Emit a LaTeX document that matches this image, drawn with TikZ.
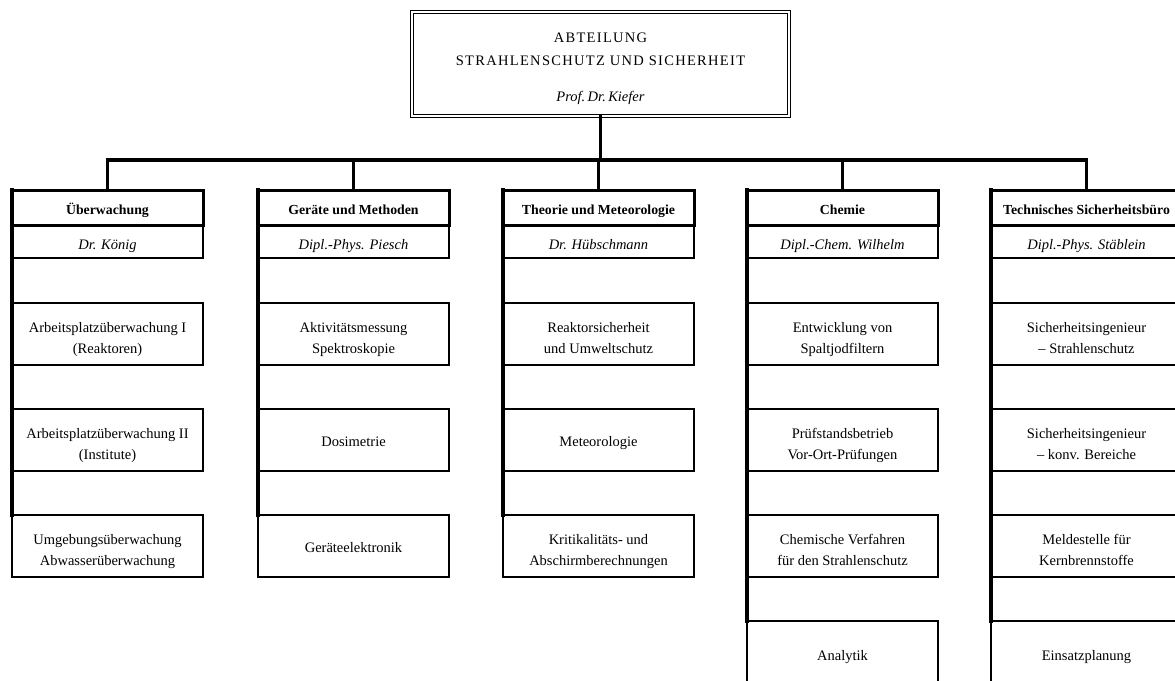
\documentclass[tikz,border=0pt]{standalone}
\usepackage{fontspec}
\setmainfont{Liberation Serif}
\begin{document}
\begin{tikzpicture}[x=1pt,y=-1pt,
  every node/.style={inner sep=0pt, outer sep=0pt},
  topbox/.style={draw, double, line width=1.2pt, double distance=1.8pt,
    minimum width=377pt, minimum height=104pt},
  hdr/.style={draw, line width=3pt, minimum width=191pt, minimum height=35pt,
    text height=13pt, text depth=0pt,
    anchor=north west, font=\fontsize{13.8}{16}\selectfont\bfseries},
  person/.style={draw, line width=1.5pt, minimum width=191pt, minimum height=33pt,
    text height=15pt, text depth=0pt,
    anchor=north west, font=\fontsize{14.5}{17}\selectfont\itshape},
  unit/.style={draw, line width=1.5pt, minimum width=191pt, minimum height=62pt,
    text height=13pt, text depth=0pt,
    anchor=north west, align=center, font=\fontsize{14.5}{20.5}\selectfont},
  unittwo/.style={unit, text height=38pt, text depth=0pt},
  lastunit/.style={unit, minimum height=66pt},
  heavy/.style={line width=3.5pt, line cap=rect, line join=miter}
]
\useasboundingbox (0,0) rectangle (1175,680);
\clip (0,0) rectangle (1175,680);

% top box
\node[topbox] (top) at (600.5,64) {};
\node[font=\fontsize{14.5}{17}\selectfont\addfontfeature{LetterSpace=9}] (t1) at (600.5,38) {ABTEILUNG};
\node[font=\fontsize{14.5}{17}\selectfont\addfontfeature{LetterSpace=9}] (t2) at (600.5,61) {STRAHLENSCHUTZ UND SICHERHEIT};
\node[font=\fontsize{14.5}{17}\selectfont\itshape] (t3) at (600.5,98) {Prof.\,Dr.\,Kiefer};
\coordinate (bus) at (600.5,160);

% column 1
\node[hdr] (h1) at (12,190) {Überwachung};
\node[person] (p1) at (12,225) {Dr. König};
\node[unittwo] (u11) at (12,303) {Arbeitsplatzüberwachung I\\(Reaktoren)};
\node[unittwo] (u12) at (12,409) {Arbeitsplatzüberwachung II\\(Institute)};
\node[unittwo] (u13) at (12,515) {Umgebungsüberwachung\\Abwasserüberwachung};

% column 2
\node[hdr] (h2) at (258,190) {Geräte und Methoden};
\node[person] (p2) at (258,225) {Dipl.-Phys. Piesch};
\node[unittwo] (u21) at (258,303) {Aktivitätsmessung\\Spektroskopie};
\node[unit] (u22) at (258,409) {Dosimetrie};
\node[unit] (u23) at (258,515) {Geräteelektronik};

% column 3
\node[hdr] (h3) at (503,190) {Theorie und Meteorologie};
\node[person] (p3) at (503,225) {Dr. Hübschmann};
\node[unittwo] (u31) at (503,303) {Reaktorsicherheit\\und Umweltschutz};
\node[unit] (u32) at (503,409) {Meteorologie};
\node[unittwo] (u33) at (503,515) {Kritikalitäts- und\\Abschirmberechnungen};

% column 4
\node[hdr] (h4) at (747,190) {Chemie};
\node[person] (p4) at (747,225) {Dipl.-Chem. Wilhelm};
\node[unittwo] (u41) at (747,303) {Entwicklung von\\Spaltjodfiltern};
\node[unittwo] (u42) at (747,409) {Prüfstandsbetrieb\\Vor-Ort-Prüfungen};
\node[unittwo] (u43) at (747,515) {Chemische Verfahren\\für den Strahlenschutz};
\node[lastunit] (u44) at (747,621) {Analytik};

% column 5
\node[hdr] (h5) at (991,190) {Technisches Sicherheitsbüro};
\node[person] (p5) at (991,225) {Dipl.-Phys. Stäblein};
\node[unittwo] (u51) at (991,303) {Sicherheitsingenieur\\– Strahlenschutz};
\node[unittwo] (u52) at (991,409) {Sicherheitsingenieur\\– konv. Bereiche};
\node[unittwo] (u53) at (991,515) {Meldestelle für\\Kernbrennstoffe};
\node[lastunit] (u54) at (991,621) {Einsatzplanung};

% connectors
\draw[heavy] (top.south) -- (bus);
\draw[heavy] (h1.north) |- (bus);
\draw[heavy] (h2.north) |- (bus);
\draw[heavy] (h3.north) -- (bus -| h3.north);
\draw[heavy] (h4.north) |- (bus);
\draw[heavy] (h5.north) |- (bus);

% spines
\draw[heavy] (h1.north west) -- (u13.north west);
\draw[heavy] (h2.north west) -- (u23.north west);
\draw[heavy] (h3.north west) -- (u33.north west);
\draw[heavy] (h4.north west) -- (u44.north west);
\draw[heavy] (h5.north west) -- (u54.north west);
\end{tikzpicture}
\end{document}
